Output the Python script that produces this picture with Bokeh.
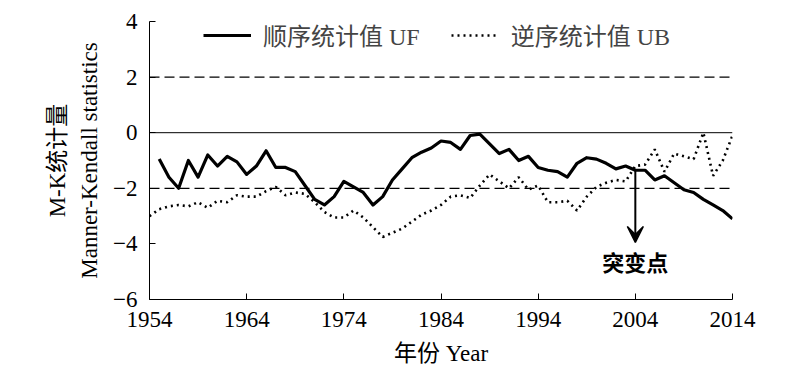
from bokeh.plotting import figure
from bokeh.models import Span, Arrow, VeeHead, Label, Range1d, FixedTicker, Legend, LegendItem
from bokeh.embed import file_html
from bokeh.resources import INLINE

# ---- data ----
uf_years = list(range(1955, 2015))
uf_values = [-0.95, -1.6, -2.0, -1.0, -1.6, -0.8, -1.2, -0.85, -1.05, -1.5,
             -1.2, -0.65, -1.25, -1.25, -1.4, -1.9, -2.4, -2.6, -2.3, -1.75,
             -1.95, -2.15, -2.6, -2.3, -1.7, -1.3, -0.9, -0.7, -0.55, -0.3,
             -0.35, -0.6, -0.1, -0.05, -0.4, -0.75, -0.6, -1.0, -0.85, -1.25,
             -1.35, -1.4, -1.6, -1.1, -0.9, -0.95, -1.1, -1.3, -1.2, -1.35,
             -1.35, -1.7, -1.55, -1.8, -2.05, -2.15, -2.4, -2.6, -2.8, -3.1]

ub_years = list(range(1954, 2015))
ub_values = [-3.0, -2.75, -2.65, -2.6, -2.65, -2.5, -2.7, -2.45, -2.5, -2.25,
             -2.3, -2.3, -2.1, -1.95, -2.25, -2.15, -2.2, -2.5, -2.85, -3.05,
             -3.05, -2.8, -3.05, -3.4, -3.75, -3.6, -3.45, -3.2, -2.95, -2.8,
             -2.6, -2.3, -2.25, -2.35, -1.9, -1.5, -1.75, -2.0, -1.6, -2.05,
             -1.9, -2.5, -2.5, -2.45, -2.8, -2.3, -1.95, -1.8, -1.7, -1.75,
             -1.2, -1.15, -0.6, -1.4, -0.75, -0.85, -0.95, 0.0, -1.55, -1.0, -0.1]

x_ticks = [1954, 1964, 1974, 1984, 1994, 2004, 2014]
y_ticks = [-6, -4, -2, 0, 2, 4]

FONT = "'Liberation Serif', 'Noto Sans CJK SC'"
FS = "23px"

p = figure(width=784, height=370, output_backend="svg", toolbar_location=None,
           x_range=Range1d(1954, 2014), y_range=Range1d(-6, 4),
           min_border_left=149, min_border_right=52, min_border_top=21,
           min_border_bottom=71)
p.outline_line_color = None
p.grid.visible = False
p.background_fill_color = "white"
p.border_fill_color = "white"

for ax in (p.xaxis[0], p.yaxis[0]):
    ax.major_tick_in = 6
    ax.major_tick_out = 0
    ax.minor_tick_line_color = None
    ax.axis_line_color = "black"
    ax.major_tick_line_color = "black"
    ax.major_label_text_font = FONT
    ax.major_label_text_font_size = FS
    ax.major_label_text_color = "black"
    ax.axis_label_text_font = FONT
    ax.axis_label_text_font_size = "23px"
    ax.axis_label_text_font_style = "normal"
    ax.axis_label_text_color = "black"

p.xaxis.ticker = FixedTicker(ticks=x_ticks)
p.yaxis.ticker = FixedTicker(ticks=y_ticks)
p.xaxis.major_label_standoff = 12
p.yaxis.major_label_standoff = 12
p.xaxis.axis_label = "年份 Year"
p.xaxis.axis_label_standoff = 11
p.yaxis.axis_label = "M-K统计量\nManner-Kendall statistics"
p.yaxis.axis_label_standoff = 8
p.yaxis.axis_label_text_line_height = 1.3

p.add_layout(Span(location=0, dimension="width", line_color="black", line_width=1))
p.add_layout(Span(location=2, dimension="width", line_color="black", line_width=1.3, line_dash="10 5"))
p.add_layout(Span(location=-2, dimension="width", line_color="black", line_width=1.3, line_dash="10 5"))

r_uf = p.line(uf_years, uf_values, line_color="black", line_width=3.2, line_join="round")
r_ub = p.line(ub_years, ub_values, line_color="black", line_width=2.6, line_dash="2 4")

legend = Legend(items=[LegendItem(label="顺序统计值 UF", renderers=[r_uf]),
                       LegendItem(label="逆序统计值 UB", renderers=[r_ub])],
                orientation="horizontal", location=(54, 247),
                border_line_color=None, background_fill_alpha=0,
                label_text_font=FONT, label_text_font_size="24px",
                glyph_width=48, label_standoff=12, spacing=31,
                padding=4, margin=0)
p.add_layout(legend, "center")

p.add_layout(Arrow(end=VeeHead(size=16, line_color="black", fill_color="black", line_width=1.5),
                   x_start=2004, y_start=-1.35, x_end=2004, y_end=-3.95,
                   line_color="black", line_width=2))
p.add_layout(Label(x=2004, y=-4.6, text="突变点", text_align="center", text_baseline="middle",
                   text_font="Noto Sans CJK SC", text_font_style="bold", text_font_size="22px",
                   text_color="black"))

open("out.html", "w").write(file_html(p, INLINE))
